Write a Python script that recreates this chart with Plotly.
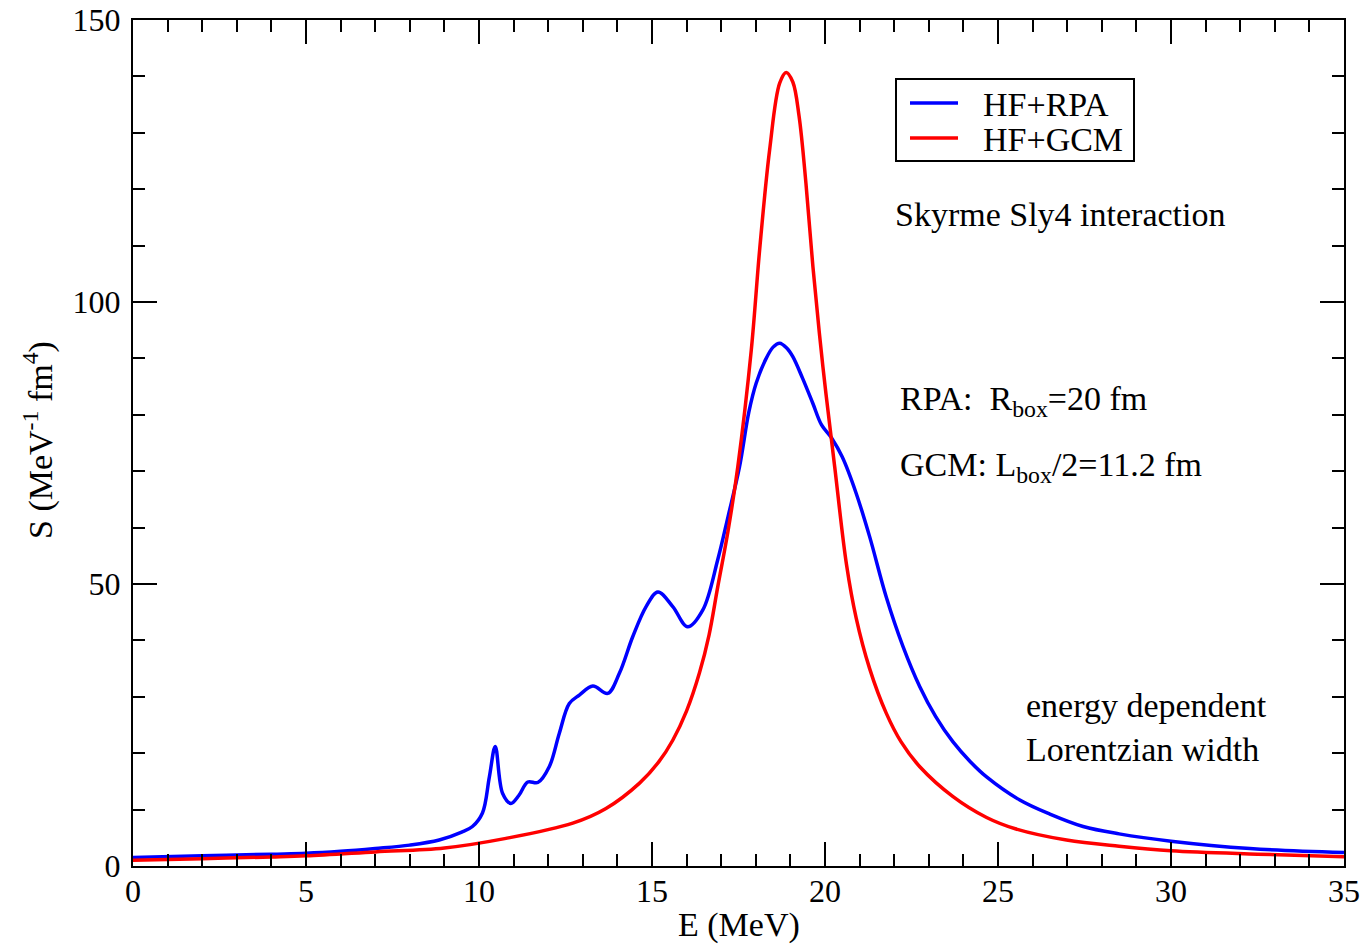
import plotly.graph_objects as go

# HF+RPA strength function (blue)
rpa_E = [0.0, 2.0, 4.0, 5.0, 6.0, 7.0, 8.0, 8.85, 9.5, 9.81, 10.1, 10.3, 10.47,
         10.68, 10.92, 11.15, 11.41, 11.70, 12.03, 12.32, 12.61, 12.90, 13.29,
         13.72, 14.06, 14.44, 14.83, 15.17, 15.60, 16.03, 16.47, 16.90, 17.2,
         17.53, 17.8, 18.01, 18.3, 18.5, 18.69, 18.9, 19.07, 19.35, 19.65, 19.9,
         20.2, 20.5, 20.9, 21.29, 21.77, 22.25, 22.74, 23.2, 23.7, 24.2, 24.67, 25.63,
         26.5, 27.46, 28.5, 30.0, 32.28, 35.0]
rpa_S = [1.5, 1.8, 2.1, 2.25, 2.6, 3.1, 3.7, 4.6, 6.0, 7.0, 9.4, 15.8, 21.2,
         12.9, 11.1, 12.5, 14.9, 14.8, 17.6, 23.5, 28.8, 30.3, 31.9,
         30.6, 34.2, 40.6, 46.0, 48.6, 46.0, 42.4, 45.4, 54.3, 62.0,
         70.8, 80.5, 85.6, 90.0, 92.0, 92.7, 91.8, 90.3, 86.5, 82.0, 78.2,
         75.8, 72.5, 66.1, 58.4, 47.7, 39.0, 31.8, 26.5, 22.0, 18.5, 15.8, 11.7,
         9.2, 7.0, 5.7, 4.4, 3.1, 2.4]

# HF+GCM strength function (red)
gcm_E = [0.0, 2.0, 4.0, 5.0, 7.0, 9.0, 10.78, 12.71, 13.67, 14.64, 15.2, 15.6,
         16.0, 16.37, 16.65, 16.90, 17.2, 17.48, 17.87, 18.11, 18.40, 18.69, 18.88,
         19.07, 19.25, 19.45, 19.65, 19.94, 20.28, 20.62, 20.9, 21.29, 21.77, 22.2,
         22.74, 23.7, 24.67, 25.5, 26.98, 28.5, 30.0, 32.5, 35.0]
gcm_S = [1.0, 1.3, 1.6, 1.8, 2.5, 3.2, 4.9, 7.6, 10.2, 14.7, 18.5, 22.3,
         27.5, 34.2, 41.0, 49.5, 59.5, 70.8, 91.5, 109.2, 127.0, 138.8, 140.7,
         139.0, 133.0, 121.0, 106.3, 88.5, 70.8, 53.5, 44.0, 35.0, 27.1, 22.0,
         17.6, 12.3, 8.6, 6.6, 4.6, 3.5, 2.7, 2.1, 1.65]

series_names = ["HF+RPA", "HF+GCM"]
series_colors = ["#0000ff", "#ff0000"]

FONT = "Liberation Serif"
FS = 34

fig = go.Figure()
fig.add_trace(go.Scatter(x=rpa_E, y=rpa_S, mode="lines", name=series_names[0], showlegend=False,
                         line=dict(color=series_colors[0], width=3.5, shape="spline", smoothing=1.0)))
fig.add_trace(go.Scatter(x=gcm_E, y=gcm_S, mode="lines", name=series_names[1], showlegend=False,
                         line=dict(color=series_colors[1], width=3.5, shape="spline", smoothing=1.0)))

axis_common = dict(showgrid=False, zeroline=False, showline=True, linecolor="black",
                   linewidth=2, mirror="allticks", ticks="inside", tickcolor="black",
                   tickwidth=2, ticklen=24, automargin=False,
                   tickfont=dict(family=FONT, size=32, color="black"))

fig.update_xaxes(range=[0, 35], dtick=5, tick0=0, ticklabelstandoff=-4,
                 minor=dict(dtick=1, ticks="inside", ticklen=12, tickwidth=2, tickcolor="black"),
                 **axis_common)
fig.update_yaxes(range=[0, 150], dtick=50, tick0=0, ticklabelstandoff=4,
                 minor=dict(dtick=10, ticks="inside", ticklen=12, tickwidth=2, tickcolor="black"),
                 **axis_common)

PL, PR, PT, PB = 133, 1344, 20, 866
W, H = PR - PL, PB - PT


def px(x):
    return (x - PL) / W


def py(y):
    return (PB - y) / H


ann_font = dict(family=FONT, size=FS, color="black")


def txt(text, x, y, xanchor="left", **kw):
    return dict(text=text, x=px(x), y=py(y), xref="paper", yref="paper",
                xanchor=xanchor, yanchor="middle", showarrow=False, font=ann_font, **kw)


annotations = [
    txt("E (MeV)", 739, 925, xanchor="center"),
    txt("S (MeV<sup>-1</sup> fm<sup>4</sup>)", 38, 440, xanchor="center", textangle=-90),
    txt("Skyrme Sly4 interaction", 893, 214),
    txt("RPA:  R<sub>box</sub>=20 fm", 898, 401),
    txt("GCM: L<sub>box</sub>/2=11.2 fm", 898, 467),
    txt("energy dependent<br>Lorentzian width", 1024, 727, align="left"),
]

# legend box drawn by hand to match the reference geometry
shapes = [dict(type="rect", xref="paper", yref="paper", x0=px(896), x1=px(1134),
               y0=py(161), y1=py(79), line=dict(color="black", width=2), fillcolor="white",
               layer="above")]
leg_rows = [103, 138]
for name, color, ry in zip(series_names, series_colors, leg_rows):
    shapes.append(dict(type="line", xref="paper", yref="paper", x0=px(910), x1=px(958),
                       y0=py(ry), y1=py(ry), line=dict(color=color, width=3.5), layer="above"))
    annotations.append(txt(name, 981, ry + 1))

fig.update_layout(
    width=1366, height=946,
    margin=dict(l=PL, r=1366 - PR, t=PT, b=946 - PB, autoexpand=False),
    paper_bgcolor="white", plot_bgcolor="white",
    font=dict(family=FONT, color="black"),
    showlegend=False,
    annotations=annotations,
    shapes=shapes,
)

fig.write_html("out.html")
